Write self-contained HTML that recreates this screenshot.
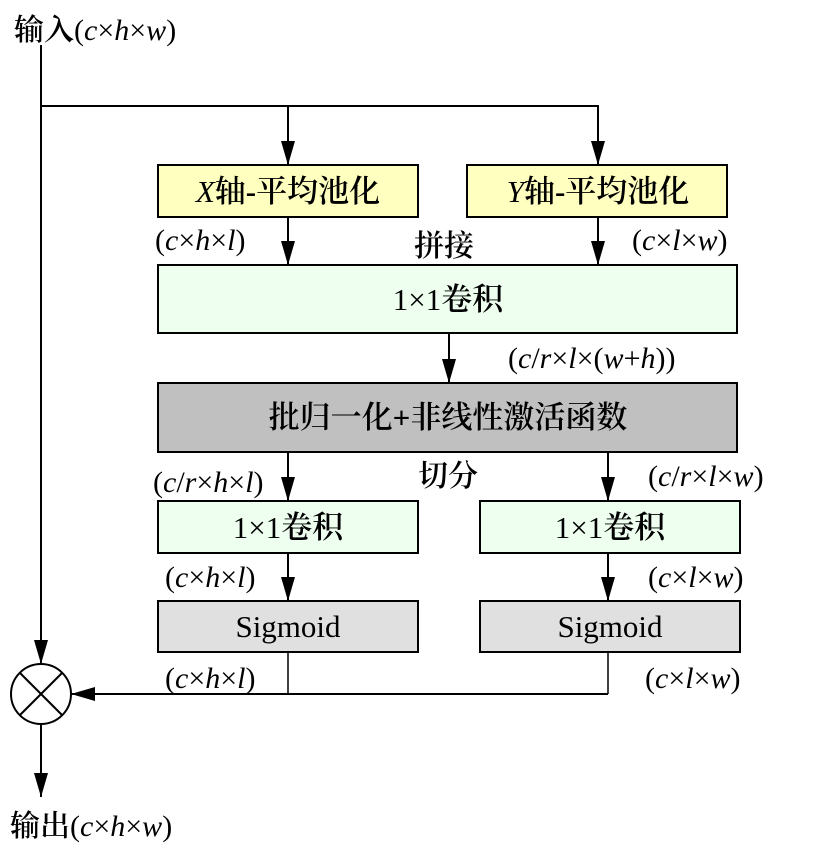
<!DOCTYPE html>
<html><head><meta charset="utf-8"><style>body{margin:0;background:#fff}svg{display:block}
text{font-family:"Liberation Serif","Noto Serif CJK SC",serif;font-size:30px;fill:#000}
.c{text-anchor:middle;font-size:31px}.b{font-weight:600}</style></head><body>
<svg width="832" height="852" viewBox="0 0 832 852">
<defs><marker id="a" markerWidth="24" markerHeight="16" refX="24" refY="8" orient="auto" markerUnits="userSpaceOnUse"><path d="M0,1L24,8L0,15Z" fill="#000"/></marker></defs>
<g stroke="#000" stroke-width="2" fill="none">
<line x1="41" y1="45" x2="41" y2="664" marker-end="url(#a)"/>
<line x1="40" y1="106" x2="599" y2="106"/>
<line x1="288" y1="106" x2="288" y2="165" marker-end="url(#a)"/>
<line x1="598" y1="106" x2="598" y2="165" marker-end="url(#a)"/>
<line x1="288" y1="217" x2="288" y2="265" marker-end="url(#a)"/>
<line x1="598" y1="217" x2="598" y2="265" marker-end="url(#a)"/>
<line x1="449" y1="333" x2="449" y2="383" marker-end="url(#a)"/>
<line x1="288" y1="452" x2="288" y2="501" marker-end="url(#a)"/>
<line x1="608" y1="452" x2="608" y2="501" marker-end="url(#a)"/>
<line x1="288" y1="553" x2="288" y2="601" marker-end="url(#a)"/>
<line x1="608" y1="553" x2="608" y2="601" marker-end="url(#a)"/>
<line x1="288" y1="652" x2="288" y2="694" stroke-width="1.5"/>
<line x1="608" y1="652" x2="608" y2="694" stroke-width="1.5"/>
<line x1="608" y1="694" x2="71" y2="694" marker-end="url(#a)"/>
<line x1="41" y1="724" x2="41" y2="797" marker-end="url(#a)"/>
<circle cx="41" cy="694" r="30"/>
<line x1="20" y1="673" x2="62" y2="715"/><line x1="62" y1="673" x2="20" y2="715"/>
</g>
<g stroke="#000" stroke-width="2">
<rect x="158" y="165" width="260" height="52" fill="#ffffc0"/>
<rect x="467" y="165" width="260" height="52" fill="#ffffc0"/>
<rect x="158" y="265" width="579" height="68" fill="#eefff0"/>
<rect x="158" y="383" width="579" height="69" fill="#c0c0c0"/>
<rect x="158" y="501" width="260" height="52" fill="#eefff0"/>
<rect x="480" y="501" width="260" height="52" fill="#eefff0"/>
<rect x="158" y="601" width="260" height="51" fill="#e0e0e0"/>
<rect x="480" y="601" width="260" height="51" fill="#e0e0e0"/>
</g>
<text x="14" y="40" class="b">输入<tspan font-weight="normal">(<tspan font-style="italic">c</tspan>×<tspan font-style="italic">h</tspan>×<tspan font-style="italic">w</tspan>)</tspan></text>
<text x="288" y="202" class="c b"><tspan font-style="italic" font-weight="normal">X</tspan>轴-平均池化</text>
<text x="598" y="202" class="c b"><tspan font-style="italic" font-weight="normal">Y</tspan>轴-平均池化</text>
<text x="155" y="250">(<tspan font-style="italic">c</tspan>×<tspan font-style="italic">h</tspan>×<tspan font-style="italic">l</tspan>)</text>
<text x="414" y="256" class="b">拼接</text>
<text x="632" y="250">(<tspan font-style="italic">c</tspan>×<tspan font-style="italic">l</tspan>×<tspan font-style="italic">w</tspan>)</text>
<text x="448" y="310" class="c">1×1<tspan font-weight="600">卷积</tspan></text>
<text x="508" y="368">(<tspan font-style="italic">c</tspan>/<tspan font-style="italic">r</tspan>×<tspan font-style="italic">l</tspan>×(<tspan font-style="italic">w</tspan>+<tspan font-style="italic">h</tspan>))</text>
<text x="448" y="428" class="c b">批归一化+非线性激活函数</text>
<text x="153" y="492">(<tspan font-style="italic">c</tspan>/<tspan font-style="italic">r</tspan>×<tspan font-style="italic">h</tspan>×<tspan font-style="italic">l</tspan>)</text>
<text x="418" y="486" class="b">切分</text>
<text x="648" y="486">(<tspan font-style="italic">c</tspan>/<tspan font-style="italic">r</tspan>×<tspan font-style="italic">l</tspan>×<tspan font-style="italic">w</tspan>)</text>
<text x="288" y="538" class="c">1×1<tspan font-weight="600">卷积</tspan></text>
<text x="610" y="538" class="c">1×1<tspan font-weight="600">卷积</tspan></text>
<text x="165" y="587">(<tspan font-style="italic">c</tspan>×<tspan font-style="italic">h</tspan>×<tspan font-style="italic">l</tspan>)</text>
<text x="648" y="587">(<tspan font-style="italic">c</tspan>×<tspan font-style="italic">l</tspan>×<tspan font-style="italic">w</tspan>)</text>
<text x="288" y="637" class="c">Sigmoid</text>
<text x="610" y="637" class="c">Sigmoid</text>
<text x="165" y="688">(<tspan font-style="italic">c</tspan>×<tspan font-style="italic">h</tspan>×<tspan font-style="italic">l</tspan>)</text>
<text x="645" y="688">(<tspan font-style="italic">c</tspan>×<tspan font-style="italic">l</tspan>×<tspan font-style="italic">w</tspan>)</text>
<text x="10" y="836" class="b">输出<tspan font-weight="normal">(<tspan font-style="italic">c</tspan>×<tspan font-style="italic">h</tspan>×<tspan font-style="italic">w</tspan>)</tspan></text>
</svg></body></html>
